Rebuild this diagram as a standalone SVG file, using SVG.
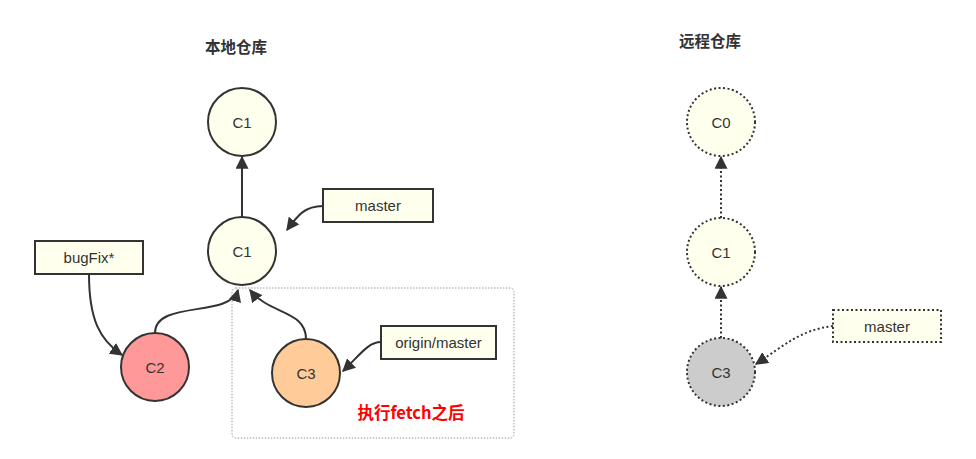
<svg xmlns="http://www.w3.org/2000/svg" width="976" height="459" viewBox="0 0 976 459">
<defs>
<marker id="ah" viewBox="0 0 10 10" refX="9" refY="5" markerWidth="13" markerHeight="13" markerUnits="userSpaceOnUse" orient="auto">
<path d="M0,0 L10,5 L0,10 Z" fill="#333"/>
</marker>
</defs>
<style>
.n{fill:#FFFFEE;stroke:#333;stroke-width:2}
.d{stroke-dasharray:2 2.5}
.t{font-family:"Liberation Sans",Arial,sans-serif;font-size:15px;fill:#333;text-anchor:middle;dominant-baseline:central}
.h{font-family:"Noto Sans CJK SC","Liberation Sans",sans-serif;font-size:15.5px;font-weight:bold;fill:#333;text-anchor:middle}
.c{fill:none;stroke:#333;stroke-width:2}
</style>
<rect width="976" height="459" fill="#fff"/>
<text class="h" x="236" y="53">本地仓库</text>
<text class="h" x="710" y="47">远程仓库</text>
<rect id="fetchbox" x="232" y="288" width="282" height="150" rx="4" fill="none" stroke="#999" stroke-width="1" stroke-dasharray="1.5 1.5"/>
<g id="connectors">
<path class="c" d="M242,217 L242,157" marker-end="url(#ah)"/>
<path class="c" d="M155,333 C155,300 230,318 238,290" marker-end="url(#ah)"/>
<path class="c" d="M306,339 C306,310 270,315 250,290" marker-end="url(#ah)"/>
<path class="c" d="M89,274 C89,320 100,340 122,355" marker-end="url(#ah)"/>
<path class="c" d="M323,206 C305,206 298,215 287,230" marker-end="url(#ah)"/>
<path class="c" d="M381,342 C368,342 360,355 343,371" marker-end="url(#ah)"/>
<path class="c d" d="M721,218 L721,157" marker-end="url(#ah)"/>
<path class="c d" d="M721,338 L721,287" marker-end="url(#ah)"/>
<path class="c d" d="M833,326 C800,330 785,345 756,364" marker-end="url(#ah)"/>
</g>
<g id="local-c1-top"><circle class="n" cx="242" cy="122" r="34"/><text class="t" x="242" y="122">C1</text></g>
<g id="local-c1"><circle class="n" cx="242" cy="251" r="34"/><text class="t" x="242" y="251">C1</text></g>
<g id="local-c2"><circle class="n" cx="155" cy="367" r="34" style="fill:#FF9999"/><text class="t" x="155" y="367">C2</text></g>
<g id="local-c3"><circle class="n" cx="306" cy="373" r="34" style="fill:#FFCC99"/><text class="t" x="306" y="373">C3</text></g>
<g id="bugfix"><rect class="n" x="35" y="241" width="108" height="33"/><text class="t" x="89" y="257.5">bugFix*</text></g>
<g id="master-local"><rect class="n" x="323" y="189" width="110" height="33"/><text class="t" x="378" y="205.5">master</text></g>
<g id="origin-master"><rect class="n" x="381" y="326" width="115" height="33"/><text class="t" x="438.5" y="342.5">origin/master</text></g>
<text id="fetch-label" x="411" y="419" font-family="Noto Sans CJK SC,Liberation Sans,sans-serif" font-size="16.5" font-weight="bold" fill="#FF0000" text-anchor="middle">执行fetch之后</text>
<g id="remote-c0"><circle class="n d" cx="721" cy="122" r="34"/><text class="t" x="721" y="122">C0</text></g>
<g id="remote-c1"><circle class="n d" cx="721" cy="252" r="34"/><text class="t" x="721" y="252">C1</text></g>
<g id="remote-c3"><circle class="n d" cx="721" cy="372" r="34" style="fill:#CCCCCC"/><text class="t" x="721" y="372">C3</text></g>
<g id="master-remote"><rect class="n d" x="833" y="310" width="108" height="32"/><text class="t" x="887" y="326">master</text></g>
</svg>
